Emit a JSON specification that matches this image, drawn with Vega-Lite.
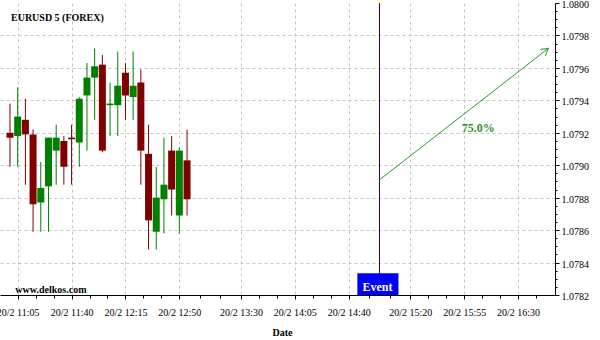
{
  "$schema": "https://vega.github.io/schema/vega-lite/v6.json",
  "width": 555,
  "height": 292,
  "autosize": {"type": "none"},
  "padding": {"left": 0, "top": 3, "right": 45, "bottom": 45},
  "background": "white",
  "title": {
    "text": "EURUSD 5 (FOREX)",
    "anchor": "start",
    "frame": "group",
    "orient": "top",
    "offset": 0,
    "dx": 11,
    "dy": 31,
    "baseline": "alphabetic",
    "font": "Liberation Serif",
    "fontSize": 10,
    "fontWeight": "bold",
    "color": "black"
  },
  "config": {
    "font": "Liberation Serif",
    "view": {"stroke": null},
    "axis": {
      "labelOverlap": false,
      "labelBound": false,
      "labelFlush": false,
      "labelFont": "Liberation Serif",
      "labelFontSize": 10,
      "labelColor": "black",
      "tickColor": "black",
      "domainColor": "black",
      "gridColor": "#c4c4c4",
      "gridDash": [3, 3],
      "titleFont": "Liberation Serif",
      "titleFontSize": 10,
      "titleFontWeight": "bold",
      "titleColor": "black"
    }
  },
  "resolve": {"axis": {"x": "independent", "y": "independent"}},
  "datasets": {
    "candles": [
      {"t": "2020-02-20T11:00:00", "o": 1.07920, "h": 1.07938, "l": 1.07899, "c": 1.07917},
      {"t": "2020-02-20T11:05:00", "o": 1.07918, "h": 1.07948, "l": 1.07899, "c": 1.07930},
      {"t": "2020-02-20T11:10:00", "o": 1.07928, "h": 1.07941, "l": 1.07888, "c": 1.07919},
      {"t": "2020-02-20T11:15:00", "o": 1.07919, "h": 1.07922, "l": 1.07859, "c": 1.07876},
      {"t": "2020-02-20T11:20:00", "o": 1.07877, "h": 1.07902, "l": 1.07859, "c": 1.07886},
      {"t": "2020-02-20T11:25:00", "o": 1.07887, "h": 1.07917, "l": 1.07859, "c": 1.07917},
      {"t": "2020-02-20T11:30:00", "o": 1.07909, "h": 1.07925, "l": 1.07888, "c": 1.07917},
      {"t": "2020-02-20T11:35:00", "o": 1.07915, "h": 1.07918, "l": 1.07888, "c": 1.07899},
      {"t": "2020-02-20T11:40:00", "o": 1.07917, "h": 1.07925, "l": 1.07888, "c": 1.07916},
      {"t": "2020-02-20T11:45:00", "o": 1.07914, "h": 1.07942, "l": 1.07899, "c": 1.07941},
      {"t": "2020-02-20T11:50:00", "o": 1.07943, "h": 1.07963, "l": 1.07909, "c": 1.07954},
      {"t": "2020-02-20T11:55:00", "o": 1.07954, "h": 1.07972, "l": 1.07928, "c": 1.07961},
      {"t": "2020-02-20T12:00:00", "o": 1.07962, "h": 1.07968, "l": 1.07908, "c": 1.07909},
      {"t": "2020-02-20T12:05:00", "o": 1.07937, "h": 1.07951, "l": 1.07918, "c": 1.07938},
      {"t": "2020-02-20T12:10:00", "o": 1.07937, "h": 1.07970, "l": 1.07918, "c": 1.07949},
      {"t": "2020-02-20T12:15:00", "o": 1.07957, "h": 1.07963, "l": 1.07928, "c": 1.07943},
      {"t": "2020-02-20T12:20:00", "o": 1.07942, "h": 1.07970, "l": 1.07928, "c": 1.07949},
      {"t": "2020-02-20T12:25:00", "o": 1.07951, "h": 1.07959, "l": 1.07888, "c": 1.07909},
      {"t": "2020-02-20T12:30:00", "o": 1.07907, "h": 1.07925, "l": 1.07848, "c": 1.07866},
      {"t": "2020-02-20T12:35:00", "o": 1.07859, "h": 1.07899, "l": 1.07848, "c": 1.07880},
      {"t": "2020-02-20T12:40:00", "o": 1.07879, "h": 1.07917, "l": 1.07858, "c": 1.07888},
      {"t": "2020-02-20T12:45:00", "o": 1.07909, "h": 1.07918, "l": 1.07869, "c": 1.07885},
      {"t": "2020-02-20T12:50:00", "o": 1.07869, "h": 1.07911, "l": 1.07858, "c": 1.07909},
      {"t": "2020-02-20T12:55:00", "o": 1.07903, "h": 1.07922, "l": 1.07869, "c": 1.07879}
    ],
    "event": [
      {"t": "2020-02-20T15:00:00", "label": "Event", "t0": "2020-02-20T14:45:37", "t1": "2020-02-20T15:12:19", "p0": 1.0782, "p1": 1.078334}
    ],
    "forecast": [
      {"t0": "2020-02-20T15:00:00", "p0": 1.07891, "t1": "2020-02-20T16:49:36", "p1": 1.07972, "label": "75.0%", "lt": "2020-02-20T16:04:06", "lp": 1.07923}
    ],
    "watermark": [
      {"t": "2020-02-20T11:03:30", "p": 1.0782, "label": "www.delkos.com"}
    ]
  },
  "layer": [
    {
      "data": {"name": "candles"},
      "mark": {"type": "rule", "strokeWidth": 1},
      "encoding": {
        "x": {
          "field": "t", "type": "temporal",
          "scale": {"domain": [
            {"year": 2020, "month": 2, "date": 20, "hours": 10, "minutes": 53, "seconds": 31},
            {"year": 2020, "month": 2, "date": 20, "hours": 16, "minutes": 53, "seconds": 59}
          ], "padding": 0},
          "axis": {
            "orient": "bottom",
            "values": [
              {"year": 2020, "month": 2, "date": 20, "hours": 11, "minutes": 5},
              {"year": 2020, "month": 2, "date": 20, "hours": 11, "minutes": 40},
              {"year": 2020, "month": 2, "date": 20, "hours": 12, "minutes": 15},
              {"year": 2020, "month": 2, "date": 20, "hours": 12, "minutes": 50},
              {"year": 2020, "month": 2, "date": 20, "hours": 13, "minutes": 30},
              {"year": 2020, "month": 2, "date": 20, "hours": 14, "minutes": 5},
              {"year": 2020, "month": 2, "date": 20, "hours": 14, "minutes": 40},
              {"year": 2020, "month": 2, "date": 20, "hours": 15, "minutes": 20},
              {"year": 2020, "month": 2, "date": 20, "hours": 15, "minutes": 55},
              {"year": 2020, "month": 2, "date": 20, "hours": 16, "minutes": 30}
            ],
            "format": "%-d/%-m %H:%M",
            "labelOverlap": false,
            "labelPadding": 8,
            "tickSize": 4,
            "grid": true,
            "title": "Date",
            "titlePadding": 10,
            "titleX": 282
          }
        },
        "y": {
          "field": "l", "type": "quantitative",
          "scale": {"domain": [1.0782, 1.08], "zero": false, "nice": false, "padding": 0},
          "axis": {
            "orient": "right",
            "values": [1.0782, 1.0784, 1.0786, 1.0788, 1.079, 1.0792, 1.0794, 1.0796, 1.0798, 1.08],
            "format": ".4f",
            "labelOverlap": false,
            "labelPadding": 2,
            "labelOffset": 1.5,
            "tickSize": 4,
            "grid": true,
            "gridOpacity": {"condition": {"test": "datum.value < 1.07999 && datum.value > 1.07821", "value": 1}, "value": 0},
            "title": null
          }
        },
        "y2": {"field": "h"},
        "color": {"condition": {"test": "datum.c >= datum.o", "value": "#008000"}, "value": "#800000"}
      }
    },
    {
      "data": {"name": "candles"},
      "mark": {"type": "bar", "size": 7},
      "encoding": {
        "x": {
          "field": "t", "type": "temporal",
          "axis": {
            "orient": "bottom",
            "values": [
              {"year": 2020, "month": 2, "date": 20, "hours": 11, "minutes": 16, "seconds": 40},
              {"year": 2020, "month": 2, "date": 20, "hours": 11, "minutes": 28, "seconds": 20},
              {"year": 2020, "month": 2, "date": 20, "hours": 11, "minutes": 51, "seconds": 40},
              {"year": 2020, "month": 2, "date": 20, "hours": 12, "minutes": 3, "seconds": 20},
              {"year": 2020, "month": 2, "date": 20, "hours": 12, "minutes": 26, "seconds": 40},
              {"year": 2020, "month": 2, "date": 20, "hours": 12, "minutes": 38, "seconds": 20},
              {"year": 2020, "month": 2, "date": 20, "hours": 13, "minutes": 3, "seconds": 20},
              {"year": 2020, "month": 2, "date": 20, "hours": 13, "minutes": 16, "seconds": 40},
              {"year": 2020, "month": 2, "date": 20, "hours": 13, "minutes": 41, "seconds": 40},
              {"year": 2020, "month": 2, "date": 20, "hours": 13, "minutes": 53, "seconds": 20},
              {"year": 2020, "month": 2, "date": 20, "hours": 14, "minutes": 16, "seconds": 40},
              {"year": 2020, "month": 2, "date": 20, "hours": 14, "minutes": 28, "seconds": 20},
              {"year": 2020, "month": 2, "date": 20, "hours": 14, "minutes": 53, "seconds": 20},
              {"year": 2020, "month": 2, "date": 20, "hours": 15, "minutes": 6, "seconds": 40},
              {"year": 2020, "month": 2, "date": 20, "hours": 15, "minutes": 31, "seconds": 40},
              {"year": 2020, "month": 2, "date": 20, "hours": 15, "minutes": 43, "seconds": 20},
              {"year": 2020, "month": 2, "date": 20, "hours": 16, "minutes": 6, "seconds": 40},
              {"year": 2020, "month": 2, "date": 20, "hours": 16, "minutes": 18, "seconds": 20},
              {"year": 2020, "month": 2, "date": 20, "hours": 16, "minutes": 41, "seconds": 40}
            ],
            "labels": false,
            "domain": false,
            "grid": false,
            "tickSize": 3,
            "title": null
          }
        },
        "y": {
          "field": "o", "type": "quantitative",
          "axis": {
            "orient": "right",
            "values": [1.07825, 1.0783, 1.07835, 1.07845, 1.0785, 1.07855, 1.07865, 1.0787, 1.07875, 1.07885, 1.0789, 1.07895, 1.07905, 1.0791, 1.07915, 1.07925, 1.0793, 1.07935, 1.07945, 1.0795, 1.07955, 1.07965, 1.0797, 1.07975, 1.07985, 1.0799, 1.07995],
            "labels": false,
            "domain": false,
            "grid": false,
            "tickSize": 2,
            "title": null
          }
        },
        "y2": {"field": "c"},
        "color": {"condition": {"test": "datum.c >= datum.o", "value": "#008000"}, "value": "#800000"}
      }
    },
    {
      "data": {"name": "event"},
      "mark": {"type": "rule", "color": "#0000ee", "strokeWidth": 1},
      "encoding": {
        "x": {"field": "t", "type": "temporal", "axis": null}
      }
    },
    {
      "data": {"name": "event"},
      "mark": {"type": "rect", "color": "#0000ff"},
      "encoding": {
        "x": {"field": "t0", "type": "temporal", "axis": null},
        "x2": {"field": "t1"},
        "y": {"field": "p0", "type": "quantitative", "axis": null},
        "y2": {"field": "p1"}
      }
    },
    {
      "data": {"name": "event"},
      "mark": {"type": "text", "color": "white", "font": "Liberation Serif", "fontSize": 12, "fontWeight": "bold", "baseline": "bottom", "align": "center", "dx": -2, "dy": -1},
      "encoding": {
        "x": {"field": "t", "type": "temporal", "axis": null},
        "y": {"field": "p0", "type": "quantitative", "axis": null},
        "text": {"field": "label"}
      }
    },
    {
      "data": {"name": "forecast"},
      "mark": {"type": "rule", "color": "#2a982a", "strokeWidth": 1},
      "encoding": {
        "x": {"field": "t0", "type": "temporal", "axis": null},
        "x2": {"field": "t1"},
        "y": {"field": "p0", "type": "quantitative", "axis": null},
        "y2": {"field": "p1"}
      }
    },
    {
      "data": {"name": "forecast"},
      "mark": {"type": "point", "shape": "M-1,-0.6L0,0L-1,0.6", "filled": false, "stroke": "#2a982a", "strokeWidth": 1, "size": 190, "angle": 322.2, "opacity": 1},
      "encoding": {
        "x": {"field": "t1", "type": "temporal", "axis": null},
        "y": {"field": "p1", "type": "quantitative", "axis": null}
      }
    },
    {
      "data": {"name": "forecast"},
      "mark": {"type": "text", "color": "#2a8f2a", "font": "Liberation Serif", "fontSize": 12, "fontWeight": "bold", "align": "center", "baseline": "middle"},
      "encoding": {
        "x": {"field": "lt", "type": "temporal", "axis": null},
        "y": {"field": "lp", "type": "quantitative", "axis": null},
        "text": {"field": "label"}
      }
    },
    {
      "data": {"name": "watermark"},
      "mark": {"type": "text", "color": "black", "font": "Liberation Serif", "fontSize": 10, "fontWeight": "bold", "align": "left", "baseline": "alphabetic", "dy": -2},
      "encoding": {
        "x": {"field": "t", "type": "temporal", "axis": null},
        "y": {"field": "p", "type": "quantitative", "axis": null},
        "text": {"field": "label"}
      }
    }
  ]
}
